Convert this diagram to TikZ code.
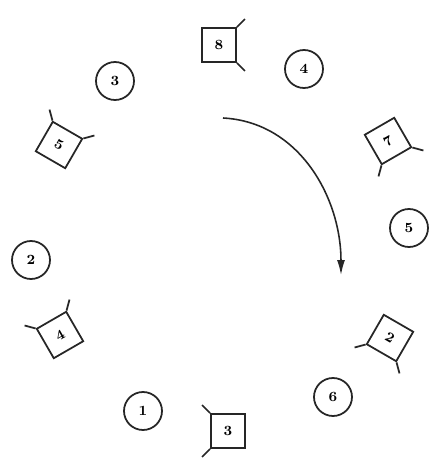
\documentclass[tikz,border=0pt]{standalone}
\usepackage{tikz}
\usetikzlibrary{arrows.meta,calc}

\begin{document}
\begin{tikzpicture}[
  x=0.02cm, y=0.02cm,
  font=\footnotesize\bfseries,
  station/.style={rectangle, draw=black!85, line width=1pt, minimum size=0.68cm, inner sep=0pt},
  marker/.style={circle, draw=black!85, line width=1pt, minimum size=0.76cm, inner sep=0pt},
  tick/.style={draw=black!85, line width=1pt},
  arr/.style={-{Latex[length=3mm,width=1.6mm]}, draw=black!85, line width=0.9pt}
]
\useasboundingbox (0,0) rectangle (436,461);

% square stations round the ring
\node[station] (st8) at (219,416) {8};
\node[station, rotate=30] (st7) at (388,320) {7};
\node[station, rotate=-30] (st2) at (390,123) {2};
\node[station] (st3) at (228,30) {3};
\node[station, rotate=30] (st4) at (60,126) {4};
\node[station, rotate=-30] (st5) at (59,316) {5};

% round markers between them
\node[marker] (mk4) at (304,392) {4};
\node[marker] (mk5) at (409,233) {5};
\node[marker] (mk6) at (333,64) {6};
\node[marker] (mk1) at (143,50) {1};
\node[marker] (mk2) at (31,201) {2};
\node[marker] (mk3) at (115,380) {3};

% little ticks on the leading corners
\draw[tick] (st8.north east) -- ($(st8.center)!1.45!(st8.north east)$);
\draw[tick] (st8.south east) -- ($(st8.center)!1.45!(st8.south east)$);
\draw[tick] (st7.south east) -- ($(st7.center)!1.45!(st7.south east)$);
\draw[tick] (st7.south west) -- ($(st7.center)!1.45!(st7.south west)$);
\draw[tick] (st2.south east) -- ($(st2.center)!1.45!(st2.south east)$);
\draw[tick] (st2.south west) -- ($(st2.center)!1.45!(st2.south west)$);
\draw[tick] (st3.north west) -- ($(st3.center)!1.45!(st3.north west)$);
\draw[tick] (st3.south west) -- ($(st3.center)!1.45!(st3.south west)$);
\draw[tick] (st4.north west) -- ($(st4.center)!1.45!(st4.north west)$);
\draw[tick] (st4.north east) -- ($(st4.center)!1.45!(st4.north east)$);
\draw[tick] (st5.north east) -- ($(st5.center)!1.45!(st5.north east)$);
\draw[tick] (st5.north west) -- ($(st5.center)!1.45!(st5.north west)$);

% direction of rotation
\coordinate (turnstart) at (223,343);
\coordinate (turnend) at (341,186);
\draw[arr] (turnstart) to[out=-3, in=90] (turnend);

\end{tikzpicture}
\end{document}
